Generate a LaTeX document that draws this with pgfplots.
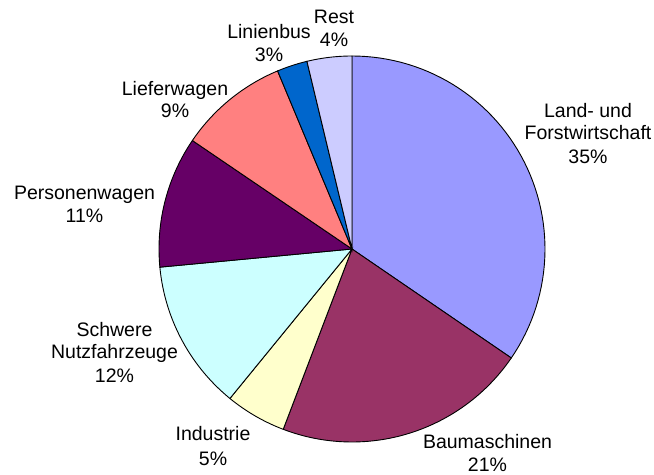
\documentclass[border=0pt]{standalone}
\usepackage{pgfplots}
\pgfplotsset{compat=1.18}
\usepackage{fontspec}
\setmainfont{Liberation Sans}
\definecolor{cLand}{HTML}{9999FF}
\definecolor{cBau}{HTML}{993366}
\definecolor{cInd}{HTML}{FFFFCC}
\definecolor{cSchw}{HTML}{CCFFFF}
\definecolor{cPers}{HTML}{660066}
\definecolor{cLief}{HTML}{FF8080}
\definecolor{cBus}{HTML}{0066CC}
\definecolor{cRest}{HTML}{CCCCFF}
% cumulative shares (percent), clockwise from 12 o'clock
% Land 34.55, Bau 21.25, Ind 5.10, Schw 12.60, Pers 11.00, Lief 9.20, Bus 2.55, Rest 3.75
\newcommand{\pieslice}[3]{%
  \addplot[fill=#1, draw=black, line width=0.9bp, domain={#2*3.6}:{#3*3.6}, samples=60, variable=\t]
    ({352+193*sin(\t)}, {226+193*cos(\t)}) -- (axis cs:352,226) -- cycle;
}
\begin{document}
\begin{tikzpicture}
\begin{axis}[
  width=654bp, height=475bp, scale only axis,
  xmin=0, xmax=654, ymin=0, ymax=475,
  enlargelimits=false,
  axis line style={draw=none}, ticks=none,
  clip=false,
  nodes={font=\fontsize{19.5bp}{23bp}\selectfont, inner sep=0pt},
]
\pieslice{cLand}{0}{34.55}
\pieslice{cBau}{34.55}{55.80}
\pieslice{cInd}{55.80}{60.90}
\pieslice{cSchw}{60.90}{73.50}
\pieslice{cPers}{73.50}{84.50}
\pieslice{cLief}{84.50}{93.70}
\pieslice{cBus}{93.70}{96.25}
\pieslice{cRest}{96.25}{100}
% labels (base anchored, y = 475 - pixel baseline)
\node[anchor=base] at (axis cs:588,357.7) {Land- und};
\node[anchor=base] at (axis cs:588,335) {Forstwirtschaft};
\node[anchor=base] at (axis cs:588,311.7) {35\%};
\node[anchor=base] at (axis cs:487.5,27) {Baumaschinen};
\node[anchor=base] at (axis cs:487.5,3.3) {21\%};
\node[anchor=base] at (axis cs:213,34) {Industrie};
\node[anchor=base] at (axis cs:213,10) {5\%};
\node[anchor=base] at (axis cs:114.5,138) {Schwere};
\node[anchor=base] at (axis cs:114.5,116) {Nutzfahrzeuge};
\node[anchor=base] at (axis cs:114.5,92) {12\%};
\node[anchor=base] at (axis cs:84.5,275) {Personenwagen};
\node[anchor=base] at (axis cs:84.5,252) {11\%};
\node[anchor=base] at (axis cs:175,379) {Lieferwagen};
\node[anchor=base] at (axis cs:175,357) {9\%};
\node[anchor=base] at (axis cs:269,436.7) {Linienbus};
\node[anchor=base] at (axis cs:269,413.3) {3\%};
\node[anchor=base] at (axis cs:334,451) {Rest};
\node[anchor=base] at (axis cs:334,428.3) {4\%};
\end{axis}
\end{tikzpicture}
\end{document}
